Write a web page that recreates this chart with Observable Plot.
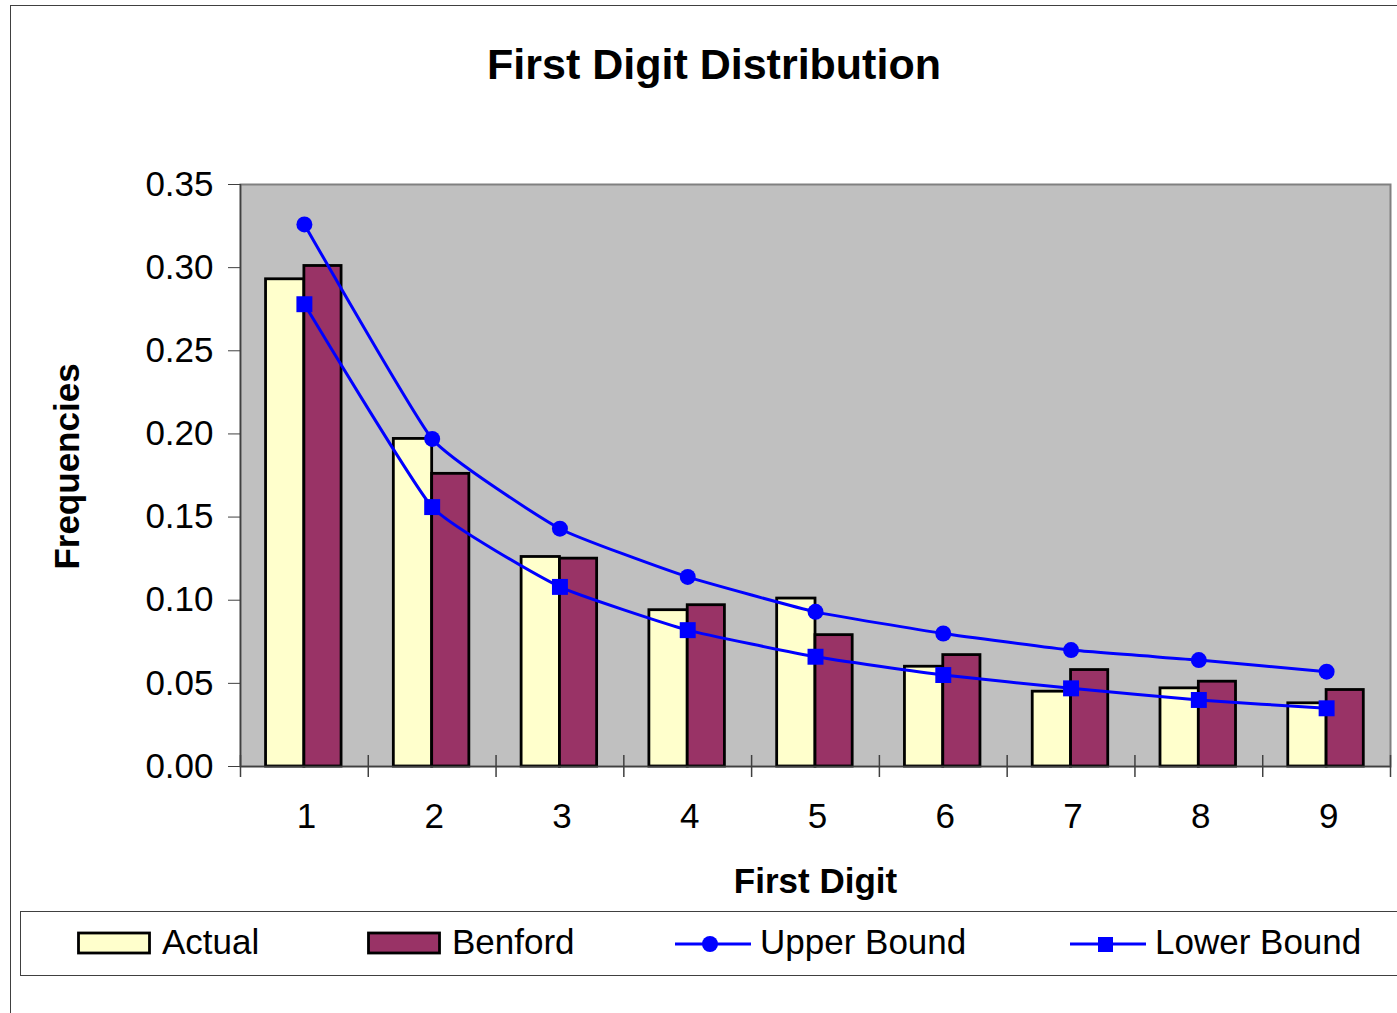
<!DOCTYPE html>
<html>
<head>
<meta charset="utf-8">
<script src="https://cdn.jsdelivr.net/npm/d3@7"></script>
<script src="https://cdn.jsdelivr.net/npm/@observablehq/plot@0.6"></script>
<style>
  html, body { margin: 0; padding: 0; background: #fff; }
  body { width: 1397px; height: 1013px; position: relative; overflow: hidden;
         font-family: "Liberation Sans", Arial, sans-serif; color: #000; }
  #frame { position: absolute; left: 10px; top: 5px; width: 1500px; height: 1100px;
           border-left: 1.5px solid #404040; border-top: 1.5px solid #404040; }
  #title { position: absolute; left: 0; top: 43px; width: 1428px; text-align: center;
           font-weight: bold; font-size: 43px; line-height: 43px; }
  #chart { position: absolute; left: 0; top: 120px; }
  #legend { position: absolute; left: 20px; top: 911px; width: 1500px; height: 63px;
            border: 1px solid #404040; }
  .item { position: absolute; top: 0; height: 63px; }
  .item svg { position: absolute; top: 0; left: 0; }
  .item span { position: absolute; top: 12px; font-size: 35px; line-height: 35px; white-space: nowrap; }
</style>
</head>
<body>
<div id="frame"></div>
<div id="title">First Digit Distribution</div>
<div id="chart"></div>
<div id="legend"></div>
<script>
// Leading-digit frequencies: observed, Benford's law, and the acceptance band
const digits  = [1, 2, 3, 4, 5, 6, 7, 8, 9];
const actual  = [0.293, 0.197, 0.126, 0.094, 0.101, 0.060, 0.045, 0.047, 0.038];
const benford = [0.301, 0.176, 0.125, 0.097, 0.079, 0.067, 0.058, 0.051, 0.046];
const upper   = [0.326, 0.197, 0.143, 0.114, 0.093, 0.080, 0.070, 0.064, 0.057];
const lower   = [0.278, 0.156, 0.108, 0.082, 0.066, 0.055, 0.047, 0.040, 0.035];
const yTicks  = [0, 0.05, 0.10, 0.15, 0.20, 0.25, 0.30, 0.35];
const seriesNames = ["Actual", "Benford", "Upper Bound", "Lower Bound"];

const BAR = 0.3;          // half-group width in digit units
const FILL_ACTUAL = "#ffffcc";
const FILL_BENFORD = "#993366";
const BLUE = "#0000ff";
const FONT = '"Liberation Sans", Arial, sans-serif';

const rows = digits.map((d, i) => ({digit: d, actual: actual[i], benford: benford[i], upper: upper[i], lower: lower[i]}));
const bounds = d3.range(digits.length + 1).map(i => i + 0.5);

const chart = Plot.plot({
  width: 1397,
  height: 785,
  marginTop: 64,
  marginBottom: 139,
  marginLeft: 240,
  marginRight: 7,
  style: {fontFamily: FONT, background: "transparent", color: "#000"},
  x: {domain: [0.5, 9.5]},
  y: {domain: [0, 0.35]},
  marks: [
    Plot.frame({fill: "#c0c0c0", stroke: "#808080", strokeWidth: 2}),
    // bars
    Plot.rectY(rows, {x1: d => d.digit - BAR, x2: d => d.digit, y1: 0, y2: "actual",
      fill: FILL_ACTUAL, stroke: "#000", strokeWidth: 2.8}),
    Plot.rectY(rows, {x1: d => d.digit, x2: d => d.digit + BAR * 0.97, y1: 0, y2: "benford",
      fill: FILL_BENFORD, stroke: "#000", strokeWidth: 2.8}),
    // axis lines
    Plot.ruleX([0.5], {stroke: "#404040", strokeWidth: 1.5}),
    Plot.ruleY([0], {stroke: "#404040", strokeWidth: 1.5}),
    // category separators crossing the x axis
    Plot.ruleX(bounds, {x: d => d, y1: 0, y2: 0, insetTop: -11, insetBottom: -11, stroke: "#404040", strokeWidth: 1.5}),
    // lightly smoothed bound lines
    Plot.line(rows, {x: "digit", y: "upper", stroke: BLUE, strokeWidth: 3, curve: "cardinal", tension: 0.6}),
    Plot.dot(rows, {x: "digit", y: "upper", r: 8, fill: BLUE, symbol: "circle"}),
    Plot.line(rows, {x: "digit", y: "lower", stroke: BLUE, strokeWidth: 3, curve: "cardinal", tension: 0.6}),
    Plot.dot(rows, {x: "digit", y: "lower", r: 9, fill: BLUE, symbol: "square"}),
    // axes
    Plot.axisY({ticks: yTicks, tickFormat: d3.format(".2f"), tickSize: 12, tickPadding: 15,
      fontSize: 35, stroke: "#404040", label: null}),
    Plot.axisX({ticks: digits, tickFormat: d => String(d), tickSize: 0, tickPadding: 37,
      fontSize: 35, dx: 2, label: null}),
    // axis titles
    Plot.text(["Frequencies"], {frameAnchor: "left", dx: -173, dy: -9, rotate: -90,
      textAnchor: "middle", lineAnchor: "middle", fontSize: 35, fontWeight: "bold"}),
    Plot.text(["First Digit"], {frameAnchor: "bottom", dy: 115, lineAnchor: "middle",
      fontSize: 35, fontWeight: "bold"})
  ]
});
document.getElementById("chart").appendChild(chart);

// Legend
const legend = document.getElementById("legend");
const legendX = [56, 346, 654, 1049];      // swatch left edges inside the box
const kinds = ["bar", "bar", "circle", "square"];
const fills = [FILL_ACTUAL, FILL_BENFORD, BLUE, BLUE];
seriesNames.forEach((name, i) => {
  const item = document.createElement("div");
  item.className = "item";
  item.style.left = legendX[i] + "px";
  const ns = "http://www.w3.org/2000/svg";
  const svg = document.createElementNS(ns, "svg");
  svg.setAttribute("width", 80);
  svg.setAttribute("height", 63);
  if (kinds[i] === "bar") {
    const r = document.createElementNS(ns, "rect");
    r.setAttribute("x", 1.5); r.setAttribute("y", 21); r.setAttribute("width", 71); r.setAttribute("height", 20);
    r.setAttribute("fill", fills[i]); r.setAttribute("stroke", "#000"); r.setAttribute("stroke-width", 2.8);
    svg.appendChild(r);
  } else {
    const l = document.createElementNS(ns, "line");
    l.setAttribute("x1", 0); l.setAttribute("x2", 76); l.setAttribute("y1", 32); l.setAttribute("y2", 32);
    l.setAttribute("stroke", BLUE); l.setAttribute("stroke-width", 3);
    svg.appendChild(l);
    if (kinds[i] === "circle") {
      const c = document.createElementNS(ns, "circle");
      c.setAttribute("cx", 35); c.setAttribute("cy", 32); c.setAttribute("r", 8); c.setAttribute("fill", BLUE);
      svg.appendChild(c);
    } else {
      const s = document.createElementNS(ns, "rect");
      s.setAttribute("x", 28); s.setAttribute("y", 25); s.setAttribute("width", 15); s.setAttribute("height", 15);
      s.setAttribute("fill", BLUE);
      svg.appendChild(s);
    }
  }
  item.appendChild(svg);
  const t = document.createElement("span");
  t.style.left = "85px";
  t.textContent = name;
  item.appendChild(t);
  legend.appendChild(item);
});
</script>
</body>
</html>
